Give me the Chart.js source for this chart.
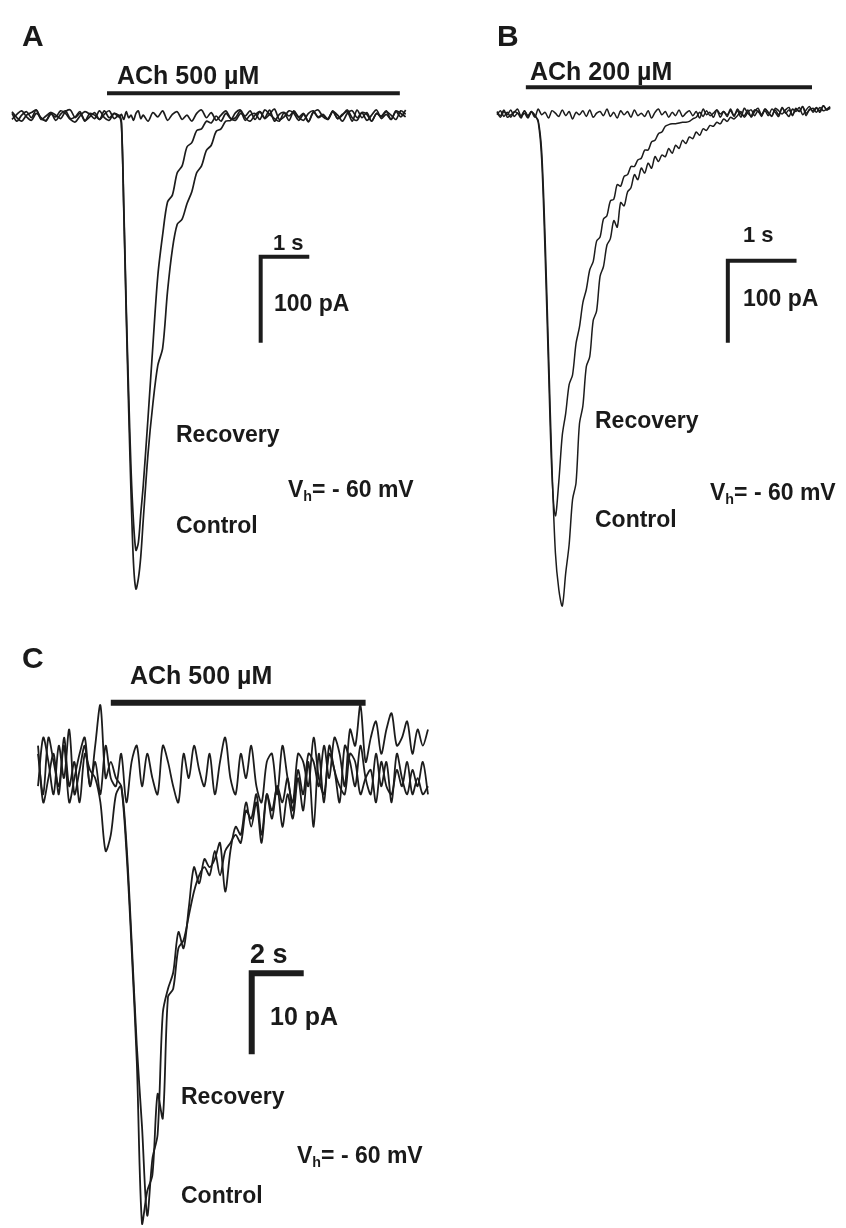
<!DOCTYPE html>
<html lang="en">
<head>
  <meta charset="UTF-8">
  <title>ACh currents</title>
  <script src="https://cdn.jsdelivr.net/npm/chart.js"></script>
  <style>
    body { margin: 0; background: #fff; }
    #page { position: relative; width: 846px; height: 1228px; overflow: hidden; }
    canvas { position: absolute; }
    .t { position: absolute; font-family: "Liberation Sans", Arial, sans-serif; font-weight: bold;
         line-height: 1; white-space: nowrap; color: #1a1a1a; }
    .t sub { font-size: 0.62em; vertical-align: -0.25em; }
  </style>
</head>
<body>
<div id="page">
  <canvas id="chartA" width="430" height="620" style="left:0;top:0"></canvas>
  <canvas id="chartB" width="376" height="620" style="left:470px;top:0"></canvas>
  <canvas id="chartC" width="450" height="588" style="left:0;top:640px"></canvas>

  <div class="t" style="left:22px;top:21px;font-size:30px">A</div>
  <div class="t" style="left:117px;top:63px;font-size:25px">ACh 500 µM</div>
  <div class="t" style="left:273px;top:232px;font-size:22px">1 s</div>
  <div class="t" style="left:274px;top:292px;font-size:23px">100 pA</div>
  <div class="t" style="left:176px;top:423px;font-size:23px">Recovery</div>
  <div class="t" style="left:176px;top:514px;font-size:23px">Control</div>
  <div class="t" style="left:288px;top:478px;font-size:23px">V<sub>h</sub>= - 60 mV</div>

  <div class="t" style="left:497px;top:21px;font-size:30px">B</div>
  <div class="t" style="left:530px;top:59px;font-size:25px">ACh 200 µM</div>
  <div class="t" style="left:743px;top:224px;font-size:22px">1 s</div>
  <div class="t" style="left:743px;top:287px;font-size:23px">100 pA</div>
  <div class="t" style="left:595px;top:409px;font-size:23px">Recovery</div>
  <div class="t" style="left:595px;top:508px;font-size:23px">Control</div>
  <div class="t" style="left:710px;top:481px;font-size:23px">V<sub>h</sub>= - 60 mV</div>

  <div class="t" style="left:22px;top:643px;font-size:30px">C</div>
  <div class="t" style="left:130px;top:663px;font-size:25px">ACh 500 µM</div>
  <div class="t" style="left:250px;top:941px;font-size:27px">2 s</div>
  <div class="t" style="left:270px;top:1004px;font-size:25px">10 pA</div>
  <div class="t" style="left:181px;top:1085px;font-size:23px">Recovery</div>
  <div class="t" style="left:181px;top:1184px;font-size:23px">Control</div>
  <div class="t" style="left:297px;top:1144px;font-size:23px">V<sub>h</sub>= - 60 mV</div>
</div>

<script>
  // ---- panel A: time (s) and current (pA) ----
  const aTime = [0,0.1,0.2,0.3,0.4,0.5,0.6,0.7,0.8,0.9,1.0,1.1,1.2,1.3,1.4,1.5,1.6,1.7,1.8,1.9,2.0,2.1,2.2,
    2.25,2.3,2.35,2.4,2.45,2.5,2.55,2.6,2.65,2.7,
    2.8,2.9,3.0,3.1,3.2,3.3,3.4,3.5,3.6,3.7,3.8,3.9,4.0,4.1,4.2,4.3,4.4,4.5,
    4.6,4.7,4.8,4.9,5.0,5.1,5.2,5.3,5.4,5.5,5.6,5.7,5.8,5.9,6.0,6.1,6.2,6.3,6.4,6.5,6.6,6.7,6.8,6.9,
    7.0,7.1,7.2,7.3,7.4,7.5,7.6,7.7,7.8,7.9,8.0,8.1];
  const aControl = [5,-2,-6,1,4,7,-3,-5,2,-1,6,3,-4,-7,0,5,2,-3,6,-2,-5,3,0,
    -8,-110,-230,-340,-440,-520,-550,-538,-512,-470,
    -392,-334,-290,-270,-204,-155,-126,-120,-102,-88,-66,-58,-40,-34,-18,-15,-6,-5,
    4,7,-2,-6,1,5,-3,2,8,-4,-1,6,3,-5,2,-6,4,7,-1,-3,5,1,-6,3,6,-2,4,-5,1,7,-3,2,-4,6,3,-1];
  const aRecovery = [-4,2,6,-1,-5,3,-2,-6,4,1,-3,5,7,-2,3,-5,-1,4,-4,2,6,-3,1,
    -6,-104,-220,-322,-412,-472,-505,-496,-462,-430,
    -350,-266,-186,-138,-100,-92,-66,-58,-36,-31,-17,-15,-6,-8,0,-6,3,-3,
    -2,6,-5,1,3,-4,7,2,-3,-6,4,0,5,-2,-5,3,6,-1,2,-4,5,-3,1,7,-2,-5,4,2,-6,3,-1,5,1,-4,6,2];
  const aBlocked = [3,-6,1,5,-2,7,-4,0,4,-5,2,6,-3,-1,5,-6,3,1,-4,6,-2,3,-1,
    2,-4,5,-2,1,-5,3,6,-3,1,
    -6,4,-1,6,-5,2,5,-4,1,-6,3,7,-2,4,-5,1,6,-3,
    -5,3,0,6,-4,5,-2,7,-6,2,4,-5,6,-1,3,-7,5,-2,1,-4,6,-3,2,5,-6,7,-2,4,-6,3,0,6,-4,5,-1,7];

  // ---- panel B ----
  const bTime = [0,0.05,0.1,0.15,0.2,0.25,0.3,0.35,0.4,0.45,
    0.5,0.55,0.6,0.65,0.7,0.75,0.8,0.85,0.9,0.95,
    1,1.05,1.1,1.15,1.2,1.25,1.3,1.35,1.4,1.45,
    1.5,1.55,1.6,1.65,1.7,1.75,1.8,1.85,1.9,1.95,
    2,2.05,2.1,2.15,2.2,2.25,2.3,2.35,2.4,2.45,
    2.5,2.55,2.6,2.65,2.7,2.75,2.8,2.85,2.9,2.95,
    3,3.05,3.1,3.15,3.2,3.25,3.3,3.35,3.4,3.45,
    3.5,3.55,3.6,3.65,3.7,3.75,3.8,3.85,3.9,3.95,
    4,4.05,4.1,4.15,4.2,4.25,4.3,4.35,4.4,4.45,
    4.5,4.55,4.6,4.65,4.7,4.75,4.8,4.85];
  const bControl = [3,-2,5,-4,-1,2,6,-3,1,-5,3,-2,
    -8,-45,-150,-290,-430,-535,-580,-600,
    -560,-525,-470,-450,-378,-356,-308,-296,-252,-240,-198,-186,-160,-152,-130,-138,-108,-112,-95,-90,
    -74,-80,-66,-72,-60,-66,-52,-58,-50,-52,-42,-48,-38,-42,-32,-36,-28,-30,-22,-26,-18,-20,-14,-15,-10,
    -12,-6,-9,-4,-6,-2,
    3,-4,2,5,-2,4,-3,6,1,-2,5,-1,7,2,-3,6,3,8,-1,5,9,2,7,4,10,5,8];
  const bRecovery = [-1,4,-3,2,-4,3,1,-2,4,-3,2,-1,
    -10,-55,-170,-310,-440,-490,
    -448,-392,-365,-330,-318,-280,-260,-230,-214,-190,-180,-155,-150,-128,-124,-106,-104,-86,-88,-76,-74,-64,-64,
    -56,-54,-44,-44,-34,-32,-24,-22,-15,-13,-12,-12,-11,-10,-10,-9,-6,-4,
    2,-3,4,-2,1,5,-4,3,-1,4,-3,6,0,-2,5,-4,3,7,-1,4,-2,6,2,-3,8,1,5,-1,7,3,9,-2,6,4,8,2,10,5,7];
  const bBlocked = [2,-4,3,-1,5,-3,1,-5,4,-2,3,-4,6,-1,2,-5,4,1,-3,5,
    -2,3,-6,2,-1,4,-3,5,-4,1,3,-2,6,-3,2,-5,4,-1,3,-4,
    5,-2,1,-3,4,-5,2,6,-1,3,-4,2,-2,5,-3,1,4,-2,3,-5,
    6,-1,2,-4,5,0,3,-3,6,-2,4,-4,7,1,-2,5,3,-1,6,2,
    -3,7,4,0,5,8,-2,6,3,9,1,5,7,2,8,4,6,9];

  // ---- panel C ----
  const cTime = [0,0.2,0.4,0.6,0.8,1,1.2,1.4,1.6,1.8,
    2,2.2,2.4,2.6,2.8,3,3.2,3.4,3.6,3.8,
    4,4.2,4.4,4.6,4.8,5,5.2,5.4,5.6,5.8,
    6,6.2,6.4,6.6,6.8,7,7.2,7.4,7.6,7.8,
    8,8.2,8.4,8.6,8.8,9,9.2,9.4,9.6,9.8,
    10,10.2,10.4,10.6,10.8,11,11.2,11.4,11.6,11.8,
    12,12.2,12.4,12.6,12.8,13,13.2,13.4,13.6,13.8,
    14,14.2,14.4,14.6,14.8,15];
  const cControl = [-2,4,1,-3,3,-1,5,-3,0,3,-2,
    3,8,-1,1,-1,-2,-10,-22,-36,-56,-52,-50,-40,-43,-28,-27,-22,-21,-18,
    -15,-13,-12,-13,-10,-13,-10,-9,-8,-9,-5,-6,-3,-8,-3,-5,-2,-4,-1,-5,
    0,-3,2,1,-2,3,-1,4,2,-2,5,3,8,1,4,6,2,5,7,3,4,6,2,5,3,5];
  const cRecovery = [3,-4,-1,2,-3,4,-2,1,-4,2,0,
    -1,-4,-10,-8,-3,-2,-9,-21,-34,-44,-55,-48,-45,-30,-27,-25,-20,-22,-17,
    -12,-14,-11,-12,-11,-9,-15,-10,-7,-8,-4,-7,-4,-9,-3,-6,-2,-7,-3,-6,
    -1,-5,1,-7,2,-4,3,0,-2,-3,2,1,-3,-1,0,-4,1,-2,-3,0,-2,1,-3,-1,-3,-2];
  const cBlocked = [2,-3,4,1,-2,3,-4,-1,2,4,-2,
    1,-3,3,-1,-2,2,-4,1,3,-2,
    2,-1,-3,3,1,-2,-4,2,-1,3,
    0,-2,2,-3,1,4,-1,-3,2,-1,
    3,-2,-4,1,2,-3,3,-1,-4,2,
    1,-2,4,-1,-3,2,0,-4,3,1,
    -2,3,-1,-3,2,-2,1,-4,2,-1,
    -3,0,-2,1,-3];

  // drug application bars [start s, end s, level] and scale bars [corner s, corner level, length s, length pA]
  const aDrug = [1.955, 7.98, 26.4];
  const bDrug = [0.42, 4.585, 32.6];
  const cDrug = [2.8, 12.6, 8.3];
  const aScale = [5.117, -163.6, 1, 100];
  const bScale = [3.36, -178.9, 1, 100];
  const cScale = [8.22, -25.1, 2, 10];

  const INK = '#1c1c1c';

  function xy(times, vals) {
    return times.map((t, i) => ({ x: t, y: vals[i] }));
  }

  function drawPanel(id, frame, time, traces, drug, bar, widths) {
    const canvas = document.getElementById(id);
    const xMin = -frame.x0 / frame.pxX;
    const xMax = (canvas.width - frame.x0) / frame.pxX;
    const yMax = frame.y0 / frame.pxY;
    const yMin = (frame.y0 - canvas.height) / frame.pxY;

    const datasets = traces.map(v => ({
      data: xy(time, v),
      borderColor: INK,
      borderWidth: widths.trace,
      tension: 0.3,
      pointRadius: 0
    }));
    datasets.push({
      data: [{ x: drug[0], y: drug[2] }, { x: drug[1], y: drug[2] }],
      borderColor: INK, borderWidth: widths.bar, pointRadius: 0, borderCapStyle: 'butt'
    });
    datasets.push({
      data: [
        { x: bar[0], y: bar[1] - bar[3] },
        { x: bar[0], y: bar[1] },
        { x: bar[0] + bar[2], y: bar[1] }
      ],
      borderColor: INK, borderWidth: widths.bar, pointRadius: 0,
      borderCapStyle: 'butt', borderJoinStyle: 'miter'
    });

    new Chart(canvas.getContext('2d'), {
      type: 'scatter',
      data: { datasets: datasets.map(d => Object.assign({ showLine: true }, d)) },
      options: {
        responsive: false,
        animation: false,
        devicePixelRatio: 1,
        layout: { padding: 0 },
        plugins: { legend: { display: false }, tooltip: { enabled: false } },
        scales: {
          x: { type: 'linear', min: xMin, max: xMax, display: false },
          y: { type: 'linear', min: yMin, max: yMax, display: false }
        }
      }
    });
  }

  drawPanel('chartA', { x0: 12, pxX: 48.6, y0: 116, pxY: 0.86 }, aTime,
    [aBlocked, aRecovery, aControl], aDrug, aScale, { trace: 1.7, bar: 4 });
  drawPanel('chartB', { x0: 27, pxX: 68.7, y0: 114, pxY: 0.82 }, bTime,
    [bBlocked, bRecovery, bControl], bDrug, bScale, { trace: 1.5, bar: 4 });
  drawPanel('chartC', { x0: 38, pxX: 26, y0: 130, pxY: 8.1 }, cTime,
    [cBlocked, cRecovery, cControl], cDrug, cScale, { trace: 1.8, bar: 6 });
</script>
</body>
</html>
